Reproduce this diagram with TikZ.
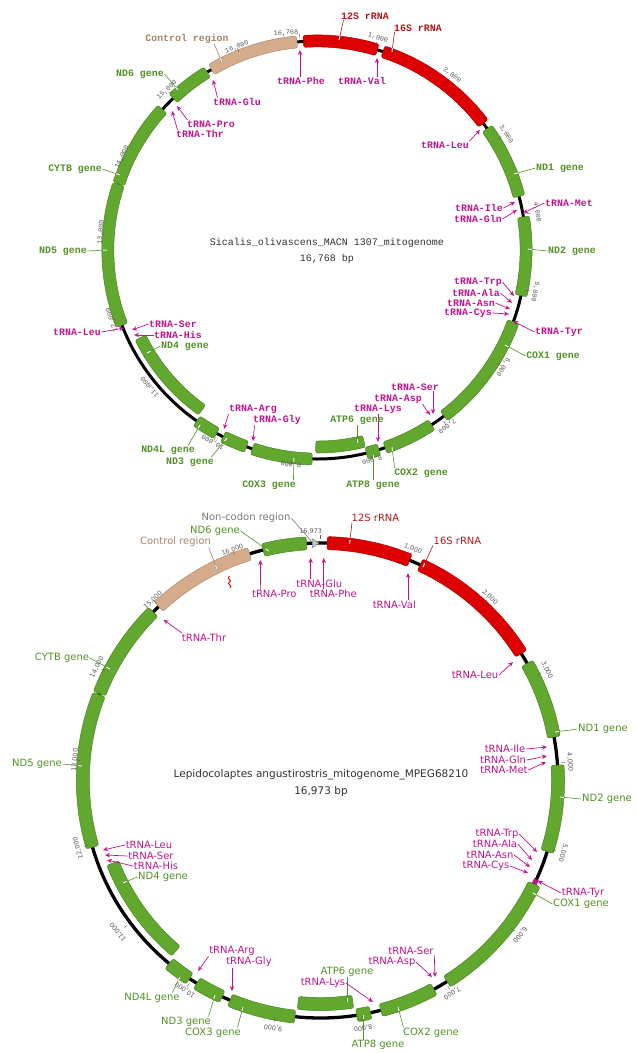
\documentclass[tikz,border=0pt]{standalone}
\usepackage{fontspec}
\usetikzlibrary{arrows.meta,calc}
\newfontfamily\monof{Liberation Mono}
\newfontfamily\sansf{DejaVu Sans}

\definecolor{gfill}{RGB}{98,168,46}
\definecolor{gline}{RGB}{72,132,34}
\definecolor{rfill}{RGB}{222,0,0}
\definecolor{rline}{RGB}{170,0,0}
\definecolor{cfill}{RGB}{212,172,140}
\definecolor{cline}{RGB}{176,140,112}
\definecolor{gtext}{RGB}{84,145,40}
\definecolor{ttext}{RGB}{194,20,140}
\definecolor{rtext}{RGB}{180,24,24}
\definecolor{ctext}{RGB}{168,134,108}
\definecolor{ntext}{RGB}{120,120,120}
\definecolor{ktext}{RGB}{90,90,90}
\definecolor{ttlc}{RGB}{50,50,50}

\tikzset{
  gene/.style={fill=gfill,draw=gline,line width=0.5pt,line join=round,rounded corners=2pt},
  rrna/.style={fill=rfill,draw=rline,line width=0.5pt,line join=round,rounded corners=2pt},
  ctrl/.style={fill=cfill,draw=cline,line width=0.5pt,line join=round,rounded corners=2pt},
  tband/.style={fill=ttext,draw=none},
  ring/.style={draw=black,line width=3pt},
  mtxt/.style={font=\monof\bfseries\fontsize{9.9}{10}\selectfont,inner sep=0.5pt},
  stxt/.style={font=\sansf\fontsize{10}{11}\selectfont,inner sep=0.5pt},
  mG/.style={mtxt,text=gtext}, mT/.style={mtxt,text=ttext},
  mR/.style={mtxt,text=rtext}, mC/.style={mtxt,text=ctext},
  sG/.style={stxt,text=gtext}, sT/.style={stxt,text=ttext},
  sR/.style={stxt,text=rtext}, sC/.style={stxt,text=ctext}, sN/.style={stxt,text=ntext},
  mttl/.style={font=\monof\fontsize{10}{11}\selectfont,text=ttlc,inner sep=0.5pt},
  sttl/.style={font=\sansf\fontsize{10.5}{12}\selectfont,text=ttlc,inner sep=0.5pt},
  mtick/.style={font=\monof\fontsize{6.8}{7}\selectfont,text=ktext,inner sep=0pt},
  stick/.style={font=\sansf\fontsize{6.5}{7}\selectfont,text=ktext,inner sep=0pt},
  tickln/.style={draw=ktext,line width=0.4pt},
  lg/.style={draw=gtext,line width=0.6pt},
  lr/.style={draw=rtext,line width=0.6pt},
  lc/.style={draw=ctext,line width=0.6pt},
  ln/.style={draw=ntext,line width=0.6pt},
  lt/.style={draw=ttext,line width=0.7pt,-{Stealth[open,length=5pt,width=4.5pt]}},
}

% annular sector from bp #2 to bp #3 on a track of radius #4
\newcommand\feat[4]{%
  \edef\fAs{\fpeval{\mapzero-360*(#2)/\maplen}}%
  \edef\fAe{\fpeval{\mapzero-360*(#3)/\maplen}}%
  \edef\fRo{\fpeval{#4+\barhw}}%
  \edef\fRi{\fpeval{#4-\barhw}}%
  \path[#1] (\fAs:\fRo pt) arc[start angle=\fAs,end angle=\fAe,radius=\fRo pt]
    -- (\fAe:\fRi pt) arc[start angle=\fAe,end angle=\fAs,radius=\fRi pt] -- cycle;}

% feature label with a leader ending in a small white marker on the bar
\newcommand\glab[7]{%
  \node[#1] (#3) at (#4) {#5};
  \coordinate (#3-s) at (#6);
  \coordinate (#3-t) at (#7);
  \draw[#2] (#3-s) -- (#3-t);
  \draw[#2,double=white,double distance=1pt,line width=0.45pt] ($(#3-t)!4pt!(#3-s)$) -- (#3-t);}

% tRNA (or plain) label with a leader
\newcommand\tlab[7]{%
  \node[#1] (#3) at (#4) {#5};
  \coordinate (#3-s) at (#6);
  \coordinate (#3-t) at (#7);
  \draw[#2] (#3-s) -- (#3-t);}

% scale label, turned along the circle, with its tick
\newcommand\tk[5]{%
  \pgfmathsetmacro\tkA{atan2(\mapcy-#4,#3-\mapcx)}%
  \pgfmathsetmacro\tkRa{\mapr+4}%
  \pgfmathsetmacro\tkRb{\mapr+8}%
  \node[#1,rotate=\tkA-90] (#2) at (#3,-#4) {#5};
  \draw[tickln] ([shift={(\tkA:\tkRa pt)}]\mapcx,-\mapcy) -- ([shift={(\tkA:\tkRb pt)}]\mapcx,-\mapcy);}

\begin{document}
\begin{tikzpicture}[x=1pt,y=1pt]
\fill[white] (0,0) rectangle (637,-1053);
\useasboundingbox (0,0) rectangle (637,-1053);

%%%%%%%%%%%%%%%% Sicalis olivascens map %%%%%%%%%%%%%%%%
\begin{scope}[shift={(317,-250)}]
  \def\mapzero{94.7}\def\maplen{16768}\def\barhw{6}
  \draw[ring] (0,0) circle[radius=209pt];
  \feat{rrna}{45}{1000}{209}
  \feat{rrna}{1076}{2674}{209}
  \feat{gene}{2757}{3717}{209}
  \feat{gene}{3987}{4998}{209}
  \feat{gene}{5347}{6861}{209}
  \feat{gene}{7054}{7718}{209}
  \feat{gene}{7800}{7965}{209}
  \feat{gene}{7960}{8620}{197}
  \feat{gene}{8665}{9443}{209}
  \feat{gene}{9522}{9846}{209}
  \feat{gene}{9940}{10238}{209}
  \feat{gene}{10266}{11566}{197}
  \feat{gene}{11812}{13647}{209}
  \feat{gene}{13655}{14765}{209}
  \feat{gene}{14961}{15511}{209}
  \feat{ctrl}{15576}{16731}{209}
\end{scope}

\def\mapcx{317}\def\mapcy{250}\def\mapr{209}
\node[mtick,rotate=4.7] (tk0) at (286,-33) {16,768};
\draw[tickln] ([shift={(94.7:213pt)}]317,-250) -- ([shift={(94.7:217pt)}]317,-250);
\tk{mtick}{tk1}{378}{38}{1,000}
\tk{mtick}{tk2}{452}{75}{2,000}
\tk{mtick}{tk3}{506}{134}{3,000}
\tk{mtick}{tk4}{537}{212}{4,000}
\tk{mtick}{tk5}{535}{292}{5,000}
\tk{mtick}{tk6}{503}{367}{6,000}
\tk{mtick}{tk7}{447}{426}{7,000}
\tk{mtick}{tk8}{372}{460}{8,000}
\tk{mtick}{tk9}{291}{464}{9,000}
\tk{mtick}{tk10}{213}{442}{10,000}
\tk{mtick}{tk11}{150}{387}{11,000}
\tk{mtick}{tk12}{112}{320}{12,000}
\tk{mtick}{tk13}{101}{232}{13,000}
\tk{mtick}{tk14}{122}{157}{14,000}
\tk{mtick}{tk15}{167}{90}{15,000}
\tk{mtick}{tk16}{237}{47}{16,000}

\node[mttl] (ttA) at (327,-243) {Sicalis\_olivascens\_MACN 1307\_mitogenome};
\node[mttl] (ttB) at (327,-259) {16,768 bp};

\glab{mR}{lr}{t12S}{365,-16}{12S rRNA}{[xshift=3pt]t12S.south west}{339,-40}
\glab{mR}{lr}{t16S}{418,-28}{16S rRNA}{[xshift=1pt]t16S.south west}{392,-52}
\glab{mC}{lc}{tCR}{187,-39}{Control region}{[xshift=-15pt]tCR.south east}{222,-62}
\glab{mG}{lg}{tND6}{140,-74}{ND6 gene}{tND6.east}{178,-90}
\tlab{mT}{lt}{tGlu}{237,-102}{tRNA-Glu}{[xshift=5pt]tGlu.north west}{213,-80}
\tlab{mT}{lt}{tPro}{211,-124}{tRNA-Pro}{[xshift=1pt]tPro.north west}{177,-106}
\tlab{mT}{lt}{tThr}{200,-134}{tRNA-Thr}{[xshift=2pt]tThr.north west}{172,-111}
\tlab{mT}{lt}{tPhe}{301,-81}{tRNA-Phe}{[xshift=-1pt]tPhe.north}{300,-50}
\tlab{mT}{lt}{tVal}{362,-81}{tRNA-Val}{[xshift=15pt]tVal.north}{377,-58}
\tlab{mT}{lt}{tLeu}{445,-145}{tRNA-Leu}{tLeu.north east}{480,-130}
\glab{mG}{lg}{tND1}{560,-168}{ND1 gene}{tND1.west}{514,-174}
\tlab{mT}{lt}{tIle}{479,-208}{tRNA-Ile}{tIle.east}{515,-202}
\tlab{mT}{lt}{tGln}{478,-219}{tRNA-Gln}{tGln.east}{517,-210}
\tlab{mT}{lt}{tMet}{569,-203}{tRNA-Met}{tMet.west}{523,-213}
\glab{mG}{lg}{tND2}{572,-251}{ND2 gene}{tND2.west}{528,-249}
\tlab{mT}{lt}{tTrp}{478,-282}{tRNA-Trp}{tTrp.east}{514,-296}
\tlab{mT}{lt}{tAla}{476,-293}{tRNA-Ala}{tAla.east}{512,-303}
\tlab{mT}{lt}{tAsn}{471,-303}{tRNA-Asn}{tAsn.east}{510,-309}
\tlab{mT}{lt}{tCys}{468,-313}{tRNA-Cys}{tCys.east}{509,-314}
\tlab{mT}{lt}{tTyr}{559,-332}{tRNA-Tyr}{tTyr.west}{513,-321}
\glab{mG}{lg}{tCOX1}{553,-356}{COX1 gene}{tCOX1.west}{505,-345}
\tlab{mT}{lt}{tSer}{415,-387}{tRNA-Ser}{[xshift=18pt]tSer.south}{433,-414}
\tlab{mT}{lt}{tAsp}{398,-399}{tRNA-Asp}{tAsp.south east}{430,-415}
\tlab{mT}{lt}{tLys}{378,-409}{tRNA-Lys}{tLys.south}{378,-442}
\glab{mG}{lg}{tATP6}{357,-420}{ATP6 gene}{tATP6.south}{357,-443}
\glab{mG}{lg}{tATP8}{373,-485}{ATP8 gene}{tATP8.north}{373,-455}
\glab{mG}{lg}{tCOX2}{421,-473}{COX2 gene}{[xshift=1pt]tCOX2.north west}{392,-447}
\glab{mG}{lg}{tCOX3}{269,-485}{COX3 gene}{[xshift=-3pt]tCOX3.north east}{294,-458}
\tlab{mT}{lt}{tGly}{277,-420}{tRNA-Gly}{[xshift=2pt]tGly.south west}{253,-441}
\tlab{mT}{lt}{tArg}{253,-409}{tRNA-Arg}{tArg.south west}{224,-429}
\glab{mG}{lg}{tND4L}{168,-450}{ND4L gene}{[xshift=-7pt]tND4L.north east}{200,-425}
\glab{mG}{lg}{tND3}{190,-462}{ND3 gene}{[xshift=-3pt]tND3.north east}{227,-438}
\glab{mG}{lg}{tND4}{185,-346}{ND4 gene}{tND4.west}{147,-353}
\tlab{mT}{lt}{tSerB}{173,-324}{tRNA-Ser}{tSerB.west}{132,-330}
\tlab{mT}{lt}{tHis}{178,-335}{tRNA-His}{tHis.west}{134,-335}
\tlab{mT}{lt}{tLeuB}{77,-332}{tRNA-Leu}{tLeuB.east}{124,-328}
\glab{mG}{lg}{tND5}{63,-251}{ND5 gene}{tND5.east}{107,-250}
\glab{mG}{lg}{tCYTB}{75,-169}{CYTB gene}{tCYTB.east}{120,-175}

%%%%%%%%%%%%%%%% Lepidocolaptes angustirostris map %%%%%%%%%%%%%%%%
\begin{scope}[shift={(320.5,-780.5)}]
  \def\mapzero{90}\def\maplen{16973}\def\barhw{6.5}
  \draw[ring,line width=3.3pt] (0,0) circle[radius=237.5pt];
  \feat{rrna}{76}{1040}{237.5}
  \feat{rrna}{1169}{2720}{237.5}
  \feat{gene}{2850}{3746}{237.5}
  \feat{gene}{4069}{5064}{237.5}
  {\def\barhw{2.6}\feat{tband}{5403}{5459}{237.5}}
  \feat{gene}{5463}{6968}{237.5}
  \feat{gene}{7142}{7793}{237.5}
  \feat{gene}{7913}{8073}{237.5}
  \feat{gene}{8095}{8759}{223.5}
  \feat{gene}{8778}{9542}{237.5}
  \feat{gene}{9639}{9966}{237.5}
  \feat{gene}{10065}{10353}{237.5}
  \feat{gene}{10386}{11707}{223.5}
  \feat{gene}{11961}{13730}{237.5}
  \feat{gene}{13743}{14862}{237.5}
  \feat{ctrl}{14949}{16154}{237.5}
  \feat{gene}{16314}{16814}{237.5}
  % non-coding stretch marker
  \path[fill=gray!45,draw=gray,line width=0.5pt] (92.0:233pt) -- (92.0:242pt) -- (90.4:237.5pt) -- cycle;
\end{scope}
% repeat-region mark
\draw[rfill,line width=0.9pt] (229.5,-576) .. controls (225.5,-579) and (233.5,-581) .. (229.5,-582)
  .. controls (225.5,-584) and (233.5,-585) .. (230,-588);

\def\mapcx{320.5}\def\mapcy{780.5}\def\mapr{237.5}
\node[stick] (bk0) at (310.7,-531.7) {16,973};
\draw[tickln] ([shift={(90:241.5pt)}]320.5,-780.5) -- ([shift={(90:245.5pt)}]320.5,-780.5);
\tk{stick}{bk1}{413}{549}{1,000}
\tk{stick}{bk2}{490}{597}{2,000}
\tk{stick}{bk3}{547}{670}{3,000}
\tk{stick}{bk4}{570}{762}{4,000}
\tk{stick}{bk5}{563}{853}{5,000}
\tk{stick}{bk6}{520}{935}{6,000}
\tk{stick}{bk7}{452}{993}{7,000}
\tk{stick}{bk8}{363}{1028}{8,000}
\tk{stick}{bk9}{273}{1028}{9,000}
\tk{stick}{bk10}{185}{990}{10,000}
\tk{stick}{bk11}{118}{932}{11,000}
\tk{stick}{bk12}{78}{848}{12,000}
\tk{stick}{bk13}{75}{760}{13,000}
\tk{stick}{bk14}{97}{667}{14,000}
\tk{stick}{bk15}{153}{600}{15,000}
\tk{stick}{bk16}{232.5}{550}{16,000}

\node[sttl] (btA) at (321,-775) {Lepidocolaptes angustirostris\_mitogenome\_MPEG68210};
\node[sttl] (btB) at (321,-792) {16,973 bp};

\tlab{sN}{ln}{bNC}{246,-518}{Non-codon region}{bNC.east}{313,-543}
\glab{sR}{lr}{b12S}{375.5,-518}{12S rRNA}{[xshift=1pt]b12S.south west}{349.6,-544}
\glab{sR}{lr}{b16S}{457.5,-541}{16S rRNA}{b16S.south west}{423,-567}
\glab{sG}{lg}{bND6}{215,-531}{ND6 gene}{bND6.east}{268.7,-551}
\glab{sC}{lc}{bCR}{175.5,-542}{Control region}{[xshift=-3pt]bCR.south east}{217,-569}
\tlab{sT}{lt}{bPro}{274.3,-593.7}{tRNA-Pro}{[xshift=9pt]bPro.north west}{260.5,-560}
\tlab{sT}{lt}{bGlu}{319.3,-583.3}{tRNA-Glu}{[xshift=-8.6pt]bGlu.north}{310.7,-558}
\tlab{sT}{lt}{bPhe}{333.3,-593.7}{tRNA-Phe}{[xshift=-9.5pt]bPhe.north}{323.8,-558}
\tlab{sT}{lt}{bVal}{394.3,-604.3}{tRNA-Val}{[xshift=13.7pt]bVal.north}{408,-573}
\tlab{sT}{lt}{bThr}{204,-637.7}{tRNA-Thr}{[xshift=1pt]bThr.north west}{163.6,-619.8}
\tlab{sT}{lt}{bLeu}{475,-675}{tRNA-Leu}{bLeu.east}{513,-662}
\glab{sG}{lg}{bND1}{603,-729}{ND1 gene}{bND1.west}{555,-732}
\tlab{sT}{lt}{bIle}{505,-749}{tRNA-Ile}{bIle.east}{547,-747}
\tlab{sT}{lt}{bGln}{503,-760}{tRNA-Gln}{bGln.east}{547,-756}
\tlab{sT}{lt}{bMet}{504,-770}{tRNA-Met}{bMet.east}{546,-762}
\glab{sG}{lg}{bND2}{607,-799}{ND2 gene}{bND2.west}{560,-797}
\tlab{sT}{lt}{bTrp}{497,-834}{tRNA-Trp}{bTrp.east}{537,-852}
\tlab{sT}{lt}{bAla}{495,-844}{tRNA-Ala}{bAla.east}{532,-860}
\tlab{sT}{lt}{bAsn}{490,-855}{tRNA-Asn}{bAsn.east}{530,-867}
\tlab{sT}{lt}{bCys}{486,-866}{tRNA-Cys}{bCys.east}{528,-873}
\tlab{sT}{lt}{bTyr}{583,-893}{tRNA-Tyr}{bTyr.west}{538,-881}
\glab{sG}{lg}{bCOX1}{581,-904}{COX1 gene}{bCOX1.west}{533,-893}
\tlab{sT}{lt}{bSer}{411,-951}{tRNA-Ser}{bSer.south east}{435,-977}
\tlab{sT}{lt}{bAsp}{392,-962}{tRNA-Asp}{bAsp.east}{432,-977}
\glab{sG}{lg}{bATP6}{347,-972}{ATP6 gene}{bATP6.south}{347,-1002}
\tlab{sT}{lt}{bLys}{323,-983}{tRNA-Lys}{bLys.east}{373,-1002}
\glab{sG}{lg}{bCOX2}{431,-1033}{COX2 gene}{[xshift=1pt]bCOX2.north west}{398,-1007}
\glab{sG}{lg}{bATP8}{378,-1045}{ATP8 gene}{[xshift=-15pt]bATP8.north}{363,-1015}
\glab{sG}{lg}{bCOX3}{213,-1033}{COX3 gene}{[xshift=-4pt]bCOX3.north east}{243,-1007}
\glab{sG}{lg}{bND3}{186,-1022}{ND3 gene}{[xshift=-3pt]bND3.north east}{215,-995}
\tlab{sT}{lt}{bArg}{232,-951}{tRNA-Arg}{bArg.south west}{198,-971}
\tlab{sT}{lt}{bGly}{249,-962}{tRNA-Gly}{[xshift=-17pt]bGly.south}{232,-991}
\glab{sG}{lg}{bND4L}{152,-998}{ND4L gene}{[xshift=-8pt]bND4L.north east}{180,-977}
\glab{sG}{lg}{bCYTB}{62,-658}{CYTB gene}{bCYTB.east}{110,-669}
\glab{sG}{lg}{bND5}{37,-764}{ND5 gene}{bND5.east}{82,-766}
\tlab{sT}{lt}{bLeuB}{149,-845}{tRNA-Leu}{bLeuB.west}{103,-850}
\tlab{sT}{lt}{bSerB}{151,-856}{tRNA-Ser}{bSerB.west}{105,-855}
\tlab{sT}{lt}{bHis}{156,-866}{tRNA-His}{bHis.west}{107,-860}
\glab{sG}{lg}{bND4}{163,-877}{ND4 gene}{bND4.west}{123,-883}
\end{tikzpicture}
\end{document}
